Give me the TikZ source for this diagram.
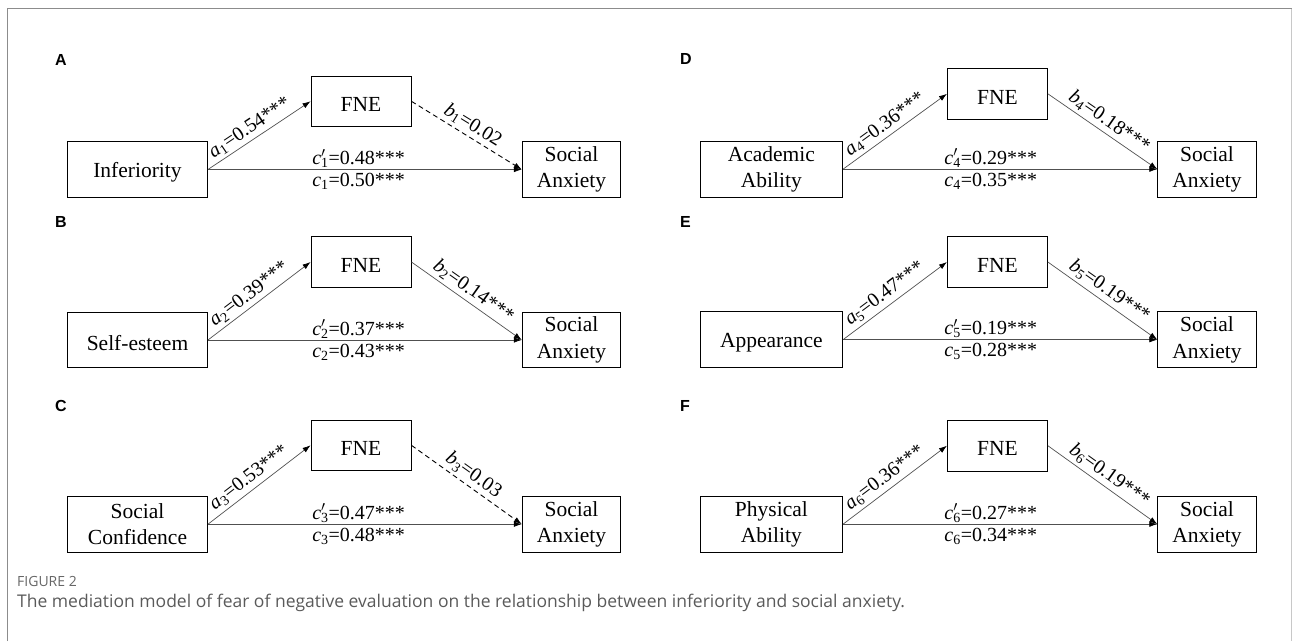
\documentclass[tikz,border=0pt]{standalone}
\usepackage{fontspec}
\setmainfont{Liberation Serif}
\newfontfamily\capfont{Open Sans}
\newfontfamily\letfont{Liberation Sans}
\usetikzlibrary{arrows.meta}
\definecolor{framegray}{HTML}{8C8C8C}
\definecolor{framelight}{HTML}{C8C8C8}
\definecolor{capgray}{HTML}{5A5A5A}
\definecolor{capgraylight}{HTML}{666666}
\definecolor{linegray}{HTML}{505050}
\newcommand\vsub[2]{\textit{#1}\textsubscript{#2}}
\newcommand\vsubp[2]{\textit{#1}\rlap{$^{\prime}$}\textsubscript{#2}}
\newcommand\boxfont{\fontsize{21.5}{26.5}\selectfont}
\newcommand\labfont{\fontsize{20}{23}\selectfont}
\tikzset{
  varbox/.style={draw=black, line width=0.9pt, inner sep=0pt, align=center, font=\boxfont, text=black,
    execute at begin node={\rule{0pt}{20.5pt}}},
  lbox/.style={varbox, minimum width=140pt, minimum height=55.6pt},
  rbox/.style={varbox, minimum width=142.3pt, minimum height=55.6pt},
  fbox/.style={varbox, minimum width=100pt, minimum height=50.7pt},
  sbox/.style={varbox, minimum width=98.5pt, minimum height=55.6pt},
  tip/.style={-{Latex[length=8pt,width=5.5pt,color=black]}},
  conn/.style={line width=0.7pt, draw=linegray, tip},
  dconn/.style={line width=0.9pt, draw=black, dash pattern=on 5pt off 3.5pt, tip},
  labA/.style={font=\labfont, inner sep=1.5pt, above},
  labB/.style={font=\labfont, inner sep=3.5pt, below},
  labS/.style={font=\labfont, inner sep=3pt, sloped, above},
  plab/.style={font=\letfont\bfseries\fontsize{16}{19}\selectfont, anchor=west, inner sep=0pt},
}
\begin{document}
\begin{tikzpicture}[x=1pt,y=-1pt]
\useasboundingbox (0,0) rectangle (1293,641);
\draw[framegray, line width=1pt] (7.5,641) -- (7.5,8.5) -- (1291.5,8.5);
\draw[framelight, line width=1pt] (1291.5,8.5) -- (1291.5,641);

% Panel A
\node[plab] (pA) at (55,60) {A};
\node[lbox] (A1) at (137.5,169.5) {Inferiority};
\node[fbox] (A2) at (361,101.3) {FNE};
\node[sbox] (A3) at (571.5,169.5) {Social\\Anxiety};
\draw[conn] (A1.east) -- node[labS, pos=0.47] {\vsub{a}{1}=0.54***} (A2.west);
\draw[dconn] (A2.east) -- node[labS, pos=0.5] {\vsub{b}{1}=0.02} (A3.west);
\draw[conn] (A1.east) -- node[labA, pos=0.48] {\vsubp{c}{1}=0.48***} node[labB, pos=0.48] {\vsub{c}{1}=0.50***} (A3.west);

% Panel B
\node[plab] (pB) at (55,222) {B};
\node[lbox] (B1) at (137.5,340) {Self-esteem};
\node[fbox] (B2) at (361,262) {FNE};
\node[sbox] (B3) at (571.5,340) {Social\\Anxiety};
\draw[conn] (B1.east) -- node[labS, pos=0.47] {\vsub{a}{2}=0.39***} (B2.west);
\draw[conn] (B2.east) -- node[labS, pos=0.5] {\vsub{b}{2}=0.14***} (B3.west);
\draw[conn] (B1.east) -- node[labA, pos=0.48] {\vsubp{c}{2}=0.37***} node[labB, pos=0.48] {\vsub{c}{2}=0.43***} (B3.west);

% Panel C
\node[plab] (pC) at (55,406) {C};
\node[lbox] (C1) at (137.5,524.2) {Social\\Confidence};
\node[fbox] (C2) at (361,445.3) {FNE};
\node[sbox] (C3) at (571.5,524.2) {Social\\Anxiety};
\draw[conn] (C1.east) -- node[labS, pos=0.47] {\vsub{a}{3}=0.53***} (C2.west);
\draw[dconn] (C2.east) -- node[labS, pos=0.5] {\vsub{b}{3}=0.03} (C3.west);
\draw[conn] (C1.east) -- node[labA, pos=0.48] {\vsubp{c}{3}=0.47***} node[labB, pos=0.48] {\vsub{c}{3}=0.48***} (C3.west);

% Panel D
\node[plab] (pD) at (680,59) {D};
\node[rbox] (D1) at (771.4,169.2) {Academic\\Ability};
\node[fbox] (D2) at (997.4,93.8) {FNE};
\node[sbox] (D3) at (1207,169.2) {Social\\Anxiety};
\draw[conn] (D1.east) -- node[labS, pos=0.47] {\vsub{a}{4}=0.36***} (D2.west);
\draw[conn] (D2.east) -- node[labS, pos=0.5] {\vsub{b}{4}=0.18***} (D3.west);
\draw[conn] (D1.east) -- node[labA, pos=0.47] {\vsubp{c}{4}=0.29***} node[labB, pos=0.47] {\vsub{c}{4}=0.35***} (D3.west);

% Panel E
\node[plab] (pE) at (680,222) {E};
\node[rbox] (E1) at (771.4,339.7) {Appearance};
\node[fbox] (E2) at (997.4,262) {FNE};
\node[sbox] (E3) at (1207,339.7) {Social\\Anxiety};
\draw[conn] (E1.east) -- node[labS, pos=0.47] {\vsub{a}{5}=0.47***} (E2.west);
\draw[conn] (E2.east) -- node[labS, pos=0.5] {\vsub{b}{5}=0.19***} (E3.west);
\draw[conn] (E1.east) -- node[labA, pos=0.47] {\vsubp{c}{5}=0.19***} node[labB, pos=0.47] {\vsub{c}{5}=0.28***} (E3.west);

% Panel F
\node[plab] (pF) at (680,406) {F};
\node[rbox] (F1) at (771.4,524.2) {Physical\\Ability};
\node[fbox] (F2) at (997.4,445.7) {FNE};
\node[sbox] (F3) at (1207,524.2) {Social\\Anxiety};
\draw[conn] (F1.east) -- node[labS, pos=0.47] {\vsub{a}{6}=0.36***} (F2.west);
\draw[conn] (F2.east) -- node[labS, pos=0.5] {\vsub{b}{6}=0.19***} (F3.west);
\draw[conn] (F1.east) -- node[labA, pos=0.47] {\vsubp{c}{6}=0.27***} node[labB, pos=0.47] {\vsub{c}{6}=0.34***} (F3.west);

% Caption
\node[anchor=west, inner sep=0pt, font=\capfont\fontsize{14}{16}\selectfont, text=capgraylight] (cap1) at (17,581) {FIGURE 2};
\node[anchor=west, inner sep=0pt, font=\capfont\fontsize{17.5}{20}\selectfont, text=capgray] (cap2) at (17,603) {The mediation model of fear of negative evaluation on the relationship between inferiority and social anxiety.};
\end{tikzpicture}
\end{document}
